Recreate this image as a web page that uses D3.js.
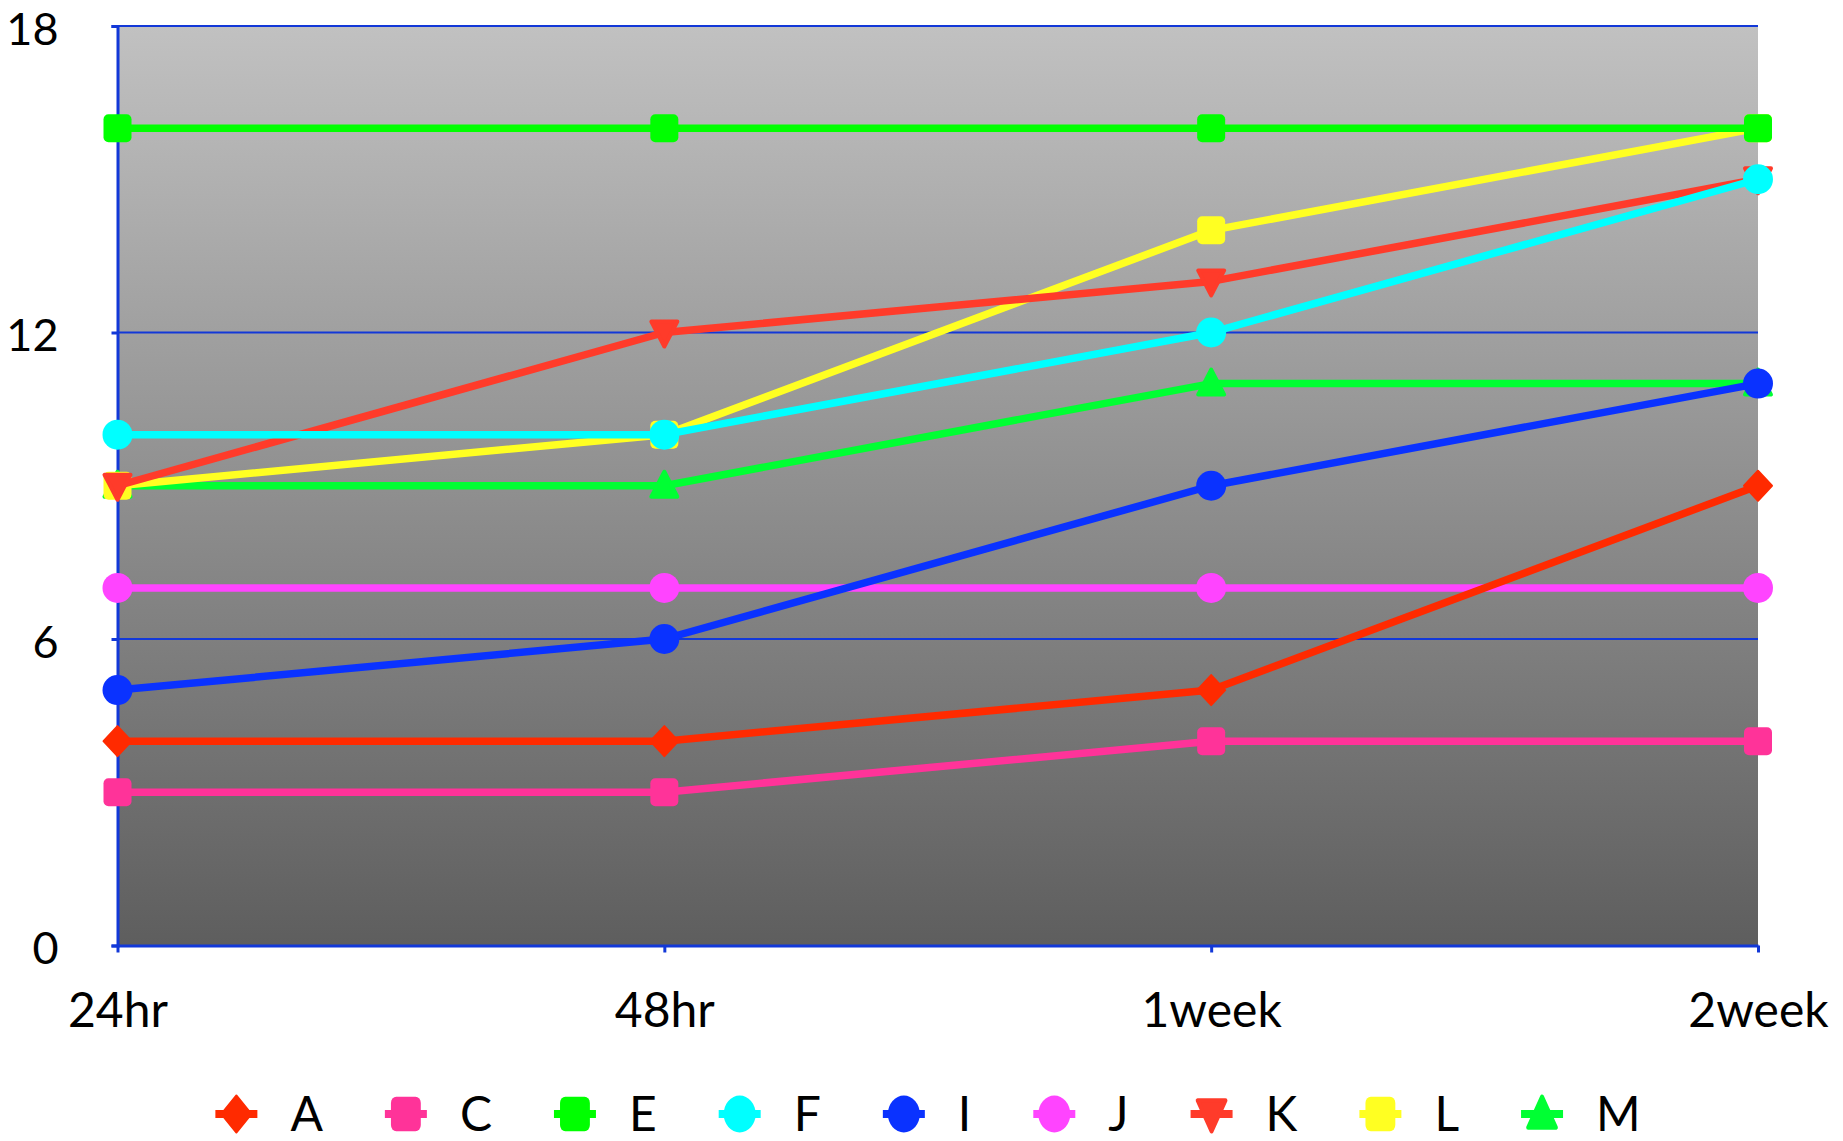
<!DOCTYPE html>
<html>
<head>
<meta charset="utf-8">
<script src="https://cdn.jsdelivr.net/npm/d3@7"></script>
<style>
  html, body { margin: 0; padding: 0; background: #ffffff; }
  svg { display: block; }
  text { font-family: "Lato", "Open Sans", sans-serif; fill: #000; }
</style>
</head>
<body>
<svg id="chart" width="1843" height="1141"></svg>
<script>
// Time points along the x axis
const categories = ["24hr", "48hr", "1week", "2week"];

// Y axis ticks
const yTicks = [0, 6, 12, 18];

// Series names, in legend order
const seriesNames = ["A", "C", "E", "F", "I", "J", "K", "L", "M"];

// Values per series, one per time point
const valuesA = [4, 4, 5, 9];
const valuesC = [3, 3, 4, 4];
const valuesE = [16, 16, 16, 16];
const valuesF = [10, 10, 12, 15];
const valuesI = [5, 6, 9, 11];
const valuesJ = [7, 7, 7, 7];
const valuesK = [9, 12, 13, 15];
const valuesL = [9, 10, 14, 16];
const valuesM = [9, 9, 11, 11];

const seriesColors = ["#FF2A00", "#FF3399", "#00FF00", "#00FFFF", "#0A32FF", "#FF44FF", "#FF3B2A", "#FFFF22", "#00FF33"];
const seriesMarkers = ["diamond", "square", "square", "circle", "circle", "circle", "triangleDown", "square", "triangleUp"];

const allValues = [valuesA, valuesC, valuesE, valuesF, valuesI, valuesJ, valuesK, valuesL, valuesM];
const series = seriesNames.map((name, i) => ({
  name,
  color: seriesColors[i],
  marker: seriesMarkers[i],
  values: allValues[i].map((v, j) => ({ cat: categories[j], v }))
}));

const svg = d3.select("#chart");
const plot = { left: 117.5, right: 1758, top: 26, bottom: 945.5 };
const axisColor = "#1238D8";
const fontSize = 48;

const x = d3.scalePoint().domain(categories).range([plot.left, plot.right]);
const y = d3.scaleLinear().domain([0, 18]).range([plot.bottom, plot.top]);

// Plot background gradient
const defs = svg.append("defs");
const grad = defs.append("linearGradient")
  .attr("id", "bg").attr("x1", 0).attr("y1", 0).attr("x2", 0).attr("y2", 1);
grad.append("stop").attr("offset", "0%").attr("stop-color", "#C1C1C1");
grad.append("stop").attr("offset", "100%").attr("stop-color", "#5E5E5E");

svg.append("rect")
  .attr("x", plot.left).attr("y", plot.top)
  .attr("width", plot.right - plot.left).attr("height", plot.bottom - plot.top)
  .attr("fill", "url(#bg)");

// Horizontal gridlines
svg.append("g").selectAll("line")
  .data(yTicks.filter(t => t > 0))
  .join("line")
  .attr("x1", plot.left).attr("x2", plot.right)
  .attr("y1", d => y(d)).attr("y2", d => y(d))
  .attr("stroke", axisColor).attr("stroke-width", 2.2);

// Y axis
const yAxis = svg.append("g")
  .attr("transform", `translate(${plot.left},0)`)
  .call(d3.axisLeft(y).tickValues(yTicks).tickSize(6).tickPadding(53).tickFormat(d3.format("d")));
yAxis.select(".domain").attr("stroke", axisColor).attr("stroke-width", 3);
yAxis.selectAll(".tick line").attr("stroke", axisColor).attr("stroke-width", 3);
yAxis.selectAll(".tick text")
  .attr("font-size", 45).attr("font-family", "Lato, 'Open Sans', sans-serif")
  .attr("fill", "#000").attr("dy", "0.41em");

// X axis
const xAxis = svg.append("g")
  .attr("transform", `translate(0,${plot.bottom})`)
  .call(d3.axisBottom(x).tickSize(7).tickPadding(40).tickSizeOuter(0));
xAxis.select(".domain").attr("stroke", axisColor).attr("stroke-width", 3);
xAxis.selectAll(".tick line").attr("stroke", axisColor).attr("stroke-width", 3);
xAxis.selectAll(".tick text")
  .attr("font-size", fontSize).attr("font-family", "Lato, 'Open Sans', sans-serif")
  .attr("fill", "#000").attr("dy", "0.71em");

// Marker shapes
function drawMarker(sel, type, color, s) {
  const k = s / 30;
  if (type === "diamond") {
    sel.append("path").attr("d", `M0,${-15*k} L${14*k},0 L0,${15*k} L${-14*k},0 Z`)
      .attr("fill", color).attr("stroke", color).attr("stroke-width", 2).attr("stroke-linejoin", "round");
  } else if (type === "square") {
    sel.append("rect").attr("x", -14*k).attr("y", -14*k).attr("width", 28*k).attr("height", 28*k)
      .attr("rx", 5*k).attr("fill", color);
  } else if (type === "circle") {
    sel.append("circle").attr("r", 15*k).attr("fill", color);
  } else if (type === "triangleDown") {
    sel.append("path").attr("d", `M${-13*k},${-11*k} L${13*k},${-11*k} L0,${14*k} Z`)
      .attr("fill", color).attr("stroke", color).attr("stroke-width", 4).attr("stroke-linejoin", "round");
  } else if (type === "triangleUp") {
    sel.append("path").attr("d", `M0,${-14*k} L${13*k},${11*k} L${-13*k},${11*k} Z`)
      .attr("fill", color).attr("stroke", color).attr("stroke-width", 4).attr("stroke-linejoin", "round");
  }
}

// Series lines and markers; later series sit underneath earlier ones
const line = d3.line().x(d => x(d.cat)).y(d => y(d.v));
const seriesG = svg.append("g");
series.slice().reverse().forEach(s => {
  const g = seriesG.append("g");
  g.append("path").datum(s.values)
    .attr("d", line).attr("fill", "none")
    .attr("stroke", s.color).attr("stroke-width", 7.5)
    .attr("stroke-linejoin", "round");
  g.selectAll("g.pt").data(s.values).join("g")
    .attr("class", "pt")
    .attr("transform", d => `translate(${x(d.cat)},${y(d.v)})`)
    .each(function () { drawMarker(d3.select(this), s.marker, s.color, 30); });
});

// Legend
const legendY = 1114;
const legend = svg.append("g");
let cursor = 0;
const items = [];
series.forEach(s => {
  const g = legend.append("g");
  g.append("line").attr("x1", -21).attr("x2", 21).attr("y1", 0).attr("y2", 0)
    .attr("stroke", s.color).attr("stroke-width", 8);
  const m = g.append("g").attr("transform", "scale(1,1.15)");
  drawMarker(m, s.marker, s.color, 32);
  const t = g.append("text").attr("x", 54).attr("y", 17)
    .attr("font-size", fontSize).text(s.name);
  const w = t.node().getComputedTextLength();
  items.push({ g, pos: cursor });
  cursor += 54 + w + 83;
});
const totalWidth = cursor - 83 + 21;
const startX = 928 - totalWidth / 2 + 21;
items.forEach(it => it.g.attr("transform", `translate(${startX + it.pos},${legendY})`));
</script>
</body>
</html>
